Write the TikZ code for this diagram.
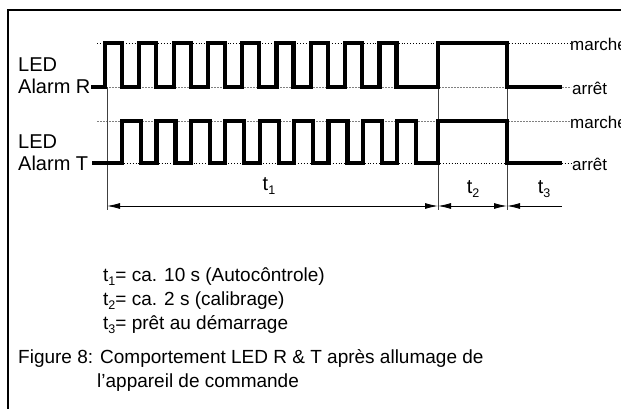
\documentclass[tikz,border=0pt]{standalone}
\usepackage{fontspec}
\setmainfont{Liberation Sans}
\usetikzlibrary{arrows.meta}
\newcommand{\lowsub}[1]{\raisebox{-0.4ex}{\fontsize{12.5}{12.5}\selectfont #1}}
\begin{document}
\begin{tikzpicture}[x=1pt,y=-1pt,
  frame/.style={line width=2pt},
  wave/.style={line width=4.2pt,line join=miter,line cap=butt},
  refblack/.style={line width=0.9pt,dotted},
  refgray/.style={line width=0.8pt,gray,dash pattern=on 2pt off 1pt},
  guide/.style={line width=1pt,black!75},
  dim/.style={line width=0.9pt},
  lbl/.style={font=\fontsize{20}{23}\selectfont,inner sep=0pt},
  note/.style={font=\fontsize{19}{22}\selectfont,inner sep=0pt},
  side/.style={font=\fontsize{17}{20}\selectfont,inner sep=0pt,anchor=west}]
\useasboundingbox (0,0) rectangle (621,409);
% frame
\draw[frame] (8,409) -- (8,10) -- (625,10);
% reference levels
\draw[refblack] (97,43) -- (570,43);
\draw[refgray] (97,87) -- (571,87);
\draw[refgray] (97,121) -- (570,121);
\draw[refblack] (92,163) -- (571,163);
% guides
\coordinate (g0t) at (107,87);  \coordinate (g0b) at (107,210);
\coordinate (g1t) at (438,43);  \coordinate (g1b) at (438,210);
\coordinate (g2t) at (507,43);  \coordinate (g2b) at (507,210);
\draw[guide] (g0t) -- (g0b);
\draw[guide] (g1t) -- (g1b);
\draw[guide] (g2t) -- (g2b);
% waveform R
\draw[wave] (91,87) -- (105,87)
  foreach \k in {0,...,8} { -- ({105+34.3*\k},87) -- ({105+34.3*\k},43) -- ({122+34.3*\k},43) -- ({122+34.3*\k},87) }
  -- (438,87) -- (438,43) -- (507,43) -- (507,87) -- (562,87);
% waveform T
\draw[wave] (92,163) -- (122,163)
  foreach \k in {0,...,8} { -- ({122+34.4*\k},163) -- ({122+34.4*\k},121) -- ({141+34.4*\k},121) -- ({141+34.4*\k},163) }
  -- (438,163) -- (438,121) -- (507,121) -- (507,163) -- (562,163);
% dimension line
\coordinate (d0) at (107,206);
\coordinate (d1) at (438,206);
\coordinate (d2) at (507,206);
\coordinate (d3) at (562,206);
\draw[dim,{Latex[length=13pt,width=6pt]}-{Latex[length=13pt,width=6pt]}] (d0) -- (d1);
\draw[dim,{Latex[length=13pt,width=6pt]}-{Latex[length=13pt,width=6pt]}] (d1) -- (d2);
\draw[dim,{Latex[length=13pt,width=6pt]}-] (d2) -- (d3);
\node[lbl] (t1) at (269,186) {t\lowsub{1}};
\node[lbl] (t2) at (473,189) {t\lowsub{2}};
\node[lbl] (t3) at (544,189) {t\lowsub{3}};
% left labels
\node[lbl,anchor=base west] (ledr) at (18,72) {LED};
\node[lbl,anchor=base west] (alr) at (18,94) {Alarm R};
\node[lbl,anchor=base west] (ledt) at (18,149) {LED};
\node[lbl,anchor=base west] (alt) at (18,171) {Alarm T};
% right labels
\node[side] (m1) at (570,44) {marche};
\node[side] (a1) at (572,88) {arrêt};
\node[side] (m2) at (570,122) {marche};
\node[side] (a2) at (572,164) {arrêt};
% notes
\node[note,anchor=base west] (n1) at (103,281) {t\lowsub{1}= ca. 10 s (Autocôntrole)};
\node[note,anchor=base west] (n2) at (103,305) {t\lowsub{2}= ca. 2 s (calibrage)};
\node[note,anchor=base west] (n3) at (103,329) {t\lowsub{3}= prêt au démarrage};
\node[note,anchor=base west] (c1) at (18,363) {Figure 8: Comportement LED R \& T après allumage de};
\node[note,anchor=base west] (c2) at (97,387) {l’appareil de commande};
\end{tikzpicture}
\end{document}
